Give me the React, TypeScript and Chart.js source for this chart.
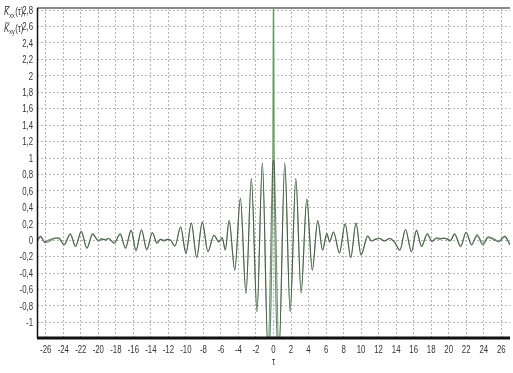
import React, { useEffect, useRef } from "react";
import { Chart, registerables } from "chart.js";
Chart.register(...registerables);

const tau = [
  -27.0, -26.6, -26.1, -25.5, -24.9, -24.5, -23.9, -23.2, -22.6, -21.95,
  -21.3, -20.65, -20.0, -19.6, -19.2, -18.8, -18.2, -17.5, -16.9, -16.25,
  -15.7, -15.07, -14.47, -13.83, -13.3, -12.9, -12.5, -12.1, -11.75, -11.25,
  -10.6, -10.0, -9.38, -8.77, -8.13, -7.49, -6.8, -6.25, -5.85, -5.5,
  -5.07, -4.42, -3.78, -3.14, -2.53, -1.88, -1.27, -0.63, -0.08, 0,
  0.08, 0.63, 1.29, 1.9, 2.55, 3.15, 3.8, 4.43, 5.05, 5.6,
  6.09, 6.4, 6.85, 7.53, 8.18, 8.82, 9.42, 9.99, 10.75, 11.2,
  11.6, 12.1, 12.67, 13.24, 13.8, 14.43, 15.07, 15.75, 16.32, 16.9,
  17.55, 18.1, 18.6, 19.0, 19.4, 19.8, 20.2, 20.67, 21.36, 22.0,
  22.6, 23.25, 23.9, 24.5, 25.1, 25.7, 26.4, 27.0,
];

const kxy = [
  -0.02, 0.04, -0.02, 0.01, 0.02, 0.03, -0.06, 0.07, -0.08, 0.11,
  -0.1, 0.07, 0.0, 0.02, 0.0, 0.02, -0.04, 0.07, -0.1, 0.12,
  -0.13, 0.12, -0.12, 0.09, -0.04, 0.01, -0.01, 0.01, 0.0, -0.07,
  0.16, -0.16, 0.21, -0.21, 0.22, -0.14, 0.06, -0.02, 0.03, -0.12,
  0.24, -0.365, 0.51, -0.65, 0.75, -0.87, 0.94, -1.35, 0.93, 0.97,
  0.93, -1.35, 0.94, -0.87, 0.75, -0.64, 0.5, -0.365, 0.24, -0.12,
  0.08, -0.02, 0.1, -0.155, 0.2, -0.21, 0.21, -0.18, 0.05, -0.01,
  0.01, 0.02, -0.01, 0.02, -0.02, -0.12, 0.13, -0.14, 0.12, -0.08,
  0.07, -0.02, 0.02, 0.01, 0.03, 0.01, 0.0, 0.07, -0.08, 0.09,
  -0.06, 0.05, -0.06, 0.03, 0.01, -0.02, 0.04, -0.06,
];

const kxx = [
  -0.01, 0.05, -0.03, -0.01, 0.03, 0.02, -0.05, 0.08, -0.07, 0.1,
  -0.09, 0.08, -0.01, 0.01, 0.01, 0.02, -0.03, 0.08, -0.09, 0.12,
  -0.12, 0.13, -0.11, 0.09, -0.03, 0.01, 0.0, 0.01, 0.0, -0.07,
  0.16, -0.16, 0.21, -0.21, 0.22, -0.14, 0.06, -0.02, 0.03, -0.12,
  0.24, -0.365, 0.51, -0.65, 0.75, -0.87, 0.94, -1.35, 0.93, 3.4,
  0.93, -1.35, 0.94, -0.87, 0.75, -0.64, 0.5, -0.365, 0.24, -0.12,
  0.08, -0.02, 0.1, -0.155, 0.2, -0.21, 0.21, -0.18, 0.05, -0.01,
  0.01, 0.02, -0.01, 0.02, -0.02, -0.12, 0.13, -0.14, 0.12, -0.07,
  0.08, -0.01, 0.03, 0.02, 0.02, 0.02, -0.01, 0.08, -0.07, 0.1,
  -0.05, 0.07, -0.04, 0.04, 0.02, -0.01, 0.05, -0.05,
];

const xTicks = [-26, -24, -22, -20, -18, -16, -14, -12, -10, -8, -6, -4, -2, 0, 2, 4, 6, 8, 10, 12, 14, 16, 18, 20, 22, 24, 26];
const yTicks = [-1, -0.8, -0.6, -0.4, -0.2, 0, 0.2, 0.4, 0.6, 0.8, 1, 1.2, 1.4, 1.6, 1.8, 2, 2.2, 2.4, 2.6, 2.8];

const yLabels = [
  { sub: "xx", tail: "(τ)," },
  { sub: "xy", tail: "(τ)" },
];
const xTitle = "τ";

const FONT = "'Liberation Sans', Arial, sans-serif";
const SQUEEZE = 0.78;

const fmtY = (v: number) => String(Number(v.toFixed(1))).replace(".", ",");

function squeezedText(ctx: any, text: string, x: number, y: number, align: string) {
  ctx.save();
  ctx.translate(x, y);
  ctx.scale(SQUEEZE, 1);
  ctx.textAlign = align;
  ctx.fillText(text, 0, 0);
  ctx.restore();
}

export default function App() {
  const ref = useRef<HTMLCanvasElement | null>(null);
  useEffect(() => {
    const canvas = ref.current;
    if (!canvas) return;
    const overlay = {
      id: "overlay",
      afterDraw(chart: any) {
        const { ctx, chartArea } = chart;
        const { left, right, top, bottom } = chartArea;
        const xs = chart.scales.x;
        const ys = chart.scales.y;
        ctx.save();
        // frame
        ctx.strokeStyle = "#8a8a8a";
        ctx.lineWidth = 2;
        ctx.beginPath();
        ctx.moveTo(left, top);
        ctx.lineTo(right, top);
        ctx.stroke();
        ctx.strokeStyle = "#111";
        ctx.lineWidth = 1.5;
        ctx.beginPath();
        ctx.moveTo(left + 0.5, top);
        ctx.lineTo(left + 0.5, bottom);
        ctx.stroke();
        ctx.lineWidth = 3;
        ctx.beginPath();
        ctx.moveTo(left, bottom);
        ctx.lineTo(right, bottom);
        ctx.stroke();
        // tick labels
        ctx.fillStyle = "#333";
        ctx.font = "10px " + FONT;
        ctx.textBaseline = "middle";
        xTicks.forEach((v) => {
          squeezedText(ctx, String(v), xs.getPixelForValue(v), bottom + 12, "center");
        });
        yTicks.forEach((v) => {
          squeezedText(ctx, fmtY(v), left - 4, ys.getPixelForValue(v) + 1, "right");
        });
        // axis title
        ctx.textBaseline = "alphabetic";
        squeezedText(ctx, xTitle, xs.getPixelForValue(0), 365, "center");
        // y labels
        const bases = [15, 31.5];
        yLabels.forEach((lab, i) => {
          const b = bases[i];
          let x = 4;
          ctx.font = "italic 10px " + FONT;
          squeezedText(ctx, "K", x, b, "left");
          const wK = ctx.measureText("K").width * SQUEEZE;
          ctx.strokeStyle = "#333";
          ctx.lineWidth = 0.8;
          ctx.beginPath();
          ctx.moveTo(x + 1, b - 8.5);
          ctx.lineTo(x + wK + 0.5, b - 8.5);
          ctx.stroke();
          x += wK;
          ctx.font = "7px " + FONT;
          squeezedText(ctx, lab.sub, x, b + 2.5, "left");
          x += ctx.measureText(lab.sub).width * SQUEEZE + 0.5;
          ctx.font = "10px " + FONT;
          squeezedText(ctx, lab.tail, x, b, "left");
        });
        ctx.restore();
      },
    };
    const gridCommon = {
      color: "#b4b4b4",
      lineWidth: 1,
      drawTicks: false,
    };
    const chart = new Chart(canvas, {
      type: "line",
      data: {
        datasets: [
          {
            label: "Kxy",
            data: tau.map((t, i) => ({ x: t, y: kxy[i] })),
            borderColor: "rgba(60,60,60,0.62)",
            borderWidth: 1.1,
            pointRadius: 0,
            cubicInterpolationMode: "monotone",
            fill: false,
          },
          {
            label: "Kxx",
            data: tau.map((t, i) => ({ x: t, y: kxx[i] })),
            borderColor: "rgb(95,155,95)",
            borderWidth: 1.1,
            pointRadius: 0,
            cubicInterpolationMode: "monotone",
            fill: false,
          },
        ],
      },
      options: {
        responsive: false,
        animation: false,
        events: [],
        layout: { padding: { left: 0, top: 8, right: 3, bottom: 0 } },
        plugins: { legend: { display: false }, tooltip: { enabled: false } },
        scales: {
          x: {
            type: "linear",
            min: -27,
            max: 27,
            afterBuildTicks: (s: any) => {
              s.ticks = xTicks.map((v) => ({ value: v }));
            },
            afterFit: (s: any) => {
              s.height = 35;
            },
            grid: gridCommon,
            border: { display: false, dash: [2, 2] },
            ticks: { display: false, autoSkip: false, maxRotation: 0 },
          },
          y: {
            type: "linear",
            min: -1.19,
            max: 2.825,
            afterBuildTicks: (s: any) => {
              s.ticks = yTicks.map((v) => ({ value: v }));
            },
            afterFit: (s: any) => {
              s.width = 37;
            },
            grid: gridCommon,
            border: { display: false, dash: [2, 2] },
            ticks: { display: false, autoSkip: false },
          },
        },
      },
      plugins: [overlay],
    } as any);
    return () => chart.destroy();
  }, []);
  return (
    <div style={{ position: "fixed", left: 0, top: 0, width: 513, height: 373, background: "#fff" }}>
      <canvas ref={ref} width={513} height={373} style={{ display: "block" }} />
    </div>
  );
}
